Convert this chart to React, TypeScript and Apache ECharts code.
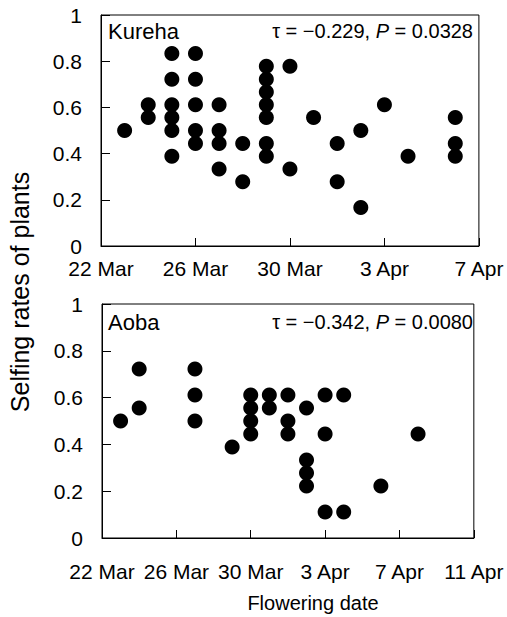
import React, { useEffect, useRef } from "react";
import * as echarts from "echarts";

// Day offsets from 22 Mar
const kurehaDays = [1, 2, 2, 3, 3, 3, 3, 3, 3, 4, 4, 4, 4, 4, 5, 5, 5, 5, 6, 6, 7, 7, 7, 7, 7, 7, 7, 8, 8, 9, 10, 10, 11, 11, 12, 13, 15, 15, 15];
const kurehaRates = [0.5, 0.611, 0.556, 0.833, 0.722, 0.611, 0.556, 0.5, 0.389, 0.833, 0.722, 0.611, 0.5, 0.444, 0.611, 0.5, 0.444, 0.333, 0.444, 0.278, 0.778, 0.722, 0.667, 0.611, 0.556, 0.444, 0.389, 0.778, 0.333, 0.556, 0.444, 0.278, 0.5, 0.167, 0.611, 0.389, 0.556, 0.444, 0.389];

const aobaDays = [1, 2, 2, 5, 5, 5, 7, 8, 8, 8, 8, 9, 9, 10, 10, 10, 11, 11, 11, 11, 12, 12, 12, 13, 13, 15, 17];
const aobaRates = [0.5, 0.722, 0.556, 0.722, 0.611, 0.5, 0.389, 0.611, 0.556, 0.5, 0.444, 0.611, 0.556, 0.611, 0.5, 0.444, 0.556, 0.333, 0.278, 0.222, 0.611, 0.444, 0.111, 0.611, 0.111, 0.222, 0.444];

const topTickLabels = ["22 Mar", "26 Mar", "30 Mar", "3 Apr", "7 Apr"];
const bottomTickLabels = ["22 Mar", "26 Mar", "30 Mar", "3 Apr", "7 Apr", "11 Apr"];

const kurehaStat = { tau: "−0.229", p: "0.0328" };
const aobaStat = { tau: "−0.342", p: "0.0080" };

const FONT = "'Liberation Sans', Arial, Helvetica, sans-serif";

export default function App() {
  const ref = useRef<HTMLDivElement>(null);
  useEffect(() => {
    if (!ref.current) return;
    const chart = echarts.init(ref.current, null, { renderer: "svg" });
    const toPairs = (xs: number[], ys: number[]) => xs.map((x, i) => [x, ys[i]]);
    const yAxisBase = (gridIndex: number) => ({
      gridIndex,
      type: "value",
      min: 0,
      max: 1,
      interval: 0.2,
      axisLine: { show: true, lineStyle: { color: "#000", width: 1 } },
      axisTick: { show: true, inside: true, length: 9, lineStyle: { color: "#000" } },
      axisLabel: { color: "#000", fontSize: 21, fontFamily: FONT, margin: 19 },
      splitLine: { show: false },
    });
    const xAxisBase = (gridIndex: number, max: number, labels: string[], margin: number) => ({
      gridIndex,
      type: "value",
      min: 0,
      max,
      interval: 4,
      axisLine: { show: true, lineStyle: { color: "#000", width: 1 } },
      axisTick: { show: true, inside: true, length: 8, lineStyle: { color: "#000" } },
      axisLabel: {
        color: "#000",
        fontSize: 21,
        fontFamily: FONT,
        margin,
        showMinLabel: true,
        showMaxLabel: true,
        hideOverlap: false,
        formatter: (v: number) => labels[Math.round(v / 4)] ?? "",
      },
      splitLine: { show: false },
    });
    const statText = (s: { tau: string; p: string }) => `{n|τ = ${s.tau}, }{i|P}{n| = ${s.p}}`;
    const rich = {
      n: { fontSize: 20, fontFamily: FONT, fill: "#000" },
      i: { fontSize: 20, fontFamily: FONT, fontStyle: "italic", fill: "#000" },
    };
    chart.setOption({
      animation: false,
      backgroundColor: "#fff",
      grid: [
        { left: 101, top: 15, width: 380, height: 231, show: true, borderColor: "#000", borderWidth: 1, backgroundColor: "transparent" },
        { left: 102, top: 304, width: 378, height: 234, show: true, borderColor: "#000", borderWidth: 1, backgroundColor: "transparent" },
      ],
      xAxis: [xAxisBase(0, 16, topTickLabels, 12), xAxisBase(1, 20, bottomTickLabels, 23)],
      yAxis: [yAxisBase(0), yAxisBase(1)],
      series: [
        {
          type: "scatter",
          xAxisIndex: 0,
          yAxisIndex: 0,
          symbol: "circle",
          symbolSize: 15,
          itemStyle: { color: "#000", opacity: 1 },
          emphasis: { disabled: true },
          data: toPairs(kurehaDays, kurehaRates),
        },
        {
          type: "scatter",
          xAxisIndex: 1,
          yAxisIndex: 1,
          symbol: "circle",
          symbolSize: 15,
          itemStyle: { color: "#000", opacity: 1 },
          emphasis: { disabled: true },
          data: toPairs(aobaDays, aobaRates),
        },
      ],
      graphic: [
        { type: "text", x: 108, y: 31, style: { text: "Kureha", fontSize: 22, fontFamily: FONT, fill: "#000", textAlign: "left", textVerticalAlign: "middle" } },
        { type: "text", x: 108, y: 322, style: { text: "Aoba", fontSize: 22, fontFamily: FONT, fill: "#000", textAlign: "left", textVerticalAlign: "middle" } },
        { type: "text", x: 473, y: 31, style: { text: statText(kurehaStat), rich, textAlign: "right", textVerticalAlign: "middle" } },
        { type: "text", x: 473, y: 322, style: { text: statText(aobaStat), rich, textAlign: "right", textVerticalAlign: "middle" } },
        { type: "text", x: 313, y: 603, style: { text: "Flowering date", fontSize: 20, fontFamily: FONT, fill: "#000", textAlign: "center", textVerticalAlign: "middle" } },
        { type: "text", x: 20, y: 292, rotation: Math.PI / 2, style: { text: "Selfing rates of plants", fontSize: 25, fontFamily: FONT, fill: "#000", textAlign: "center", textVerticalAlign: "middle" } },
      ],
    });
    return () => chart.dispose();
  }, []);
  return <div ref={ref} style={{ position: "absolute", left: 0, top: 0, width: 507, height: 617 }} />;
}
